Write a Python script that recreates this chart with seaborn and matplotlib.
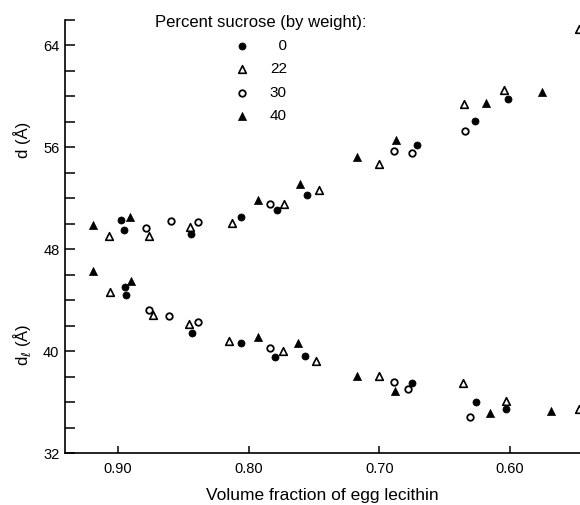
import matplotlib
matplotlib.use("Agg")
import matplotlib.pyplot as plt
import seaborn as sns
import pandas as pd
from matplotlib.ticker import MultipleLocator, FixedLocator

# ---- data (volume fraction of egg lecithin, repeat distance in Å) ----
sucrose_levels = ["0", "22", "30", "40"]

# upper branch: d
d_x_0 = [0.8974, 0.8956, 0.8440, 0.8057, 0.7784, 0.7556, 0.6712, 0.6267, 0.6018]
d_y_0 = [50.27, 49.49, 49.20, 50.56, 51.11, 52.24, 56.16, 58.09, 59.81]
d_x_22 = [0.9066, 0.8766, 0.8448, 0.8125, 0.7731, 0.7460, 0.6999, 0.6356, 0.6049, 0.5469]
d_y_22 = [49.04, 49.04, 49.77, 50.06, 51.53, 52.63, 54.71, 59.40, 60.47, 65.28]
d_x_30 = [0.8789, 0.8596, 0.8387, 0.7838, 0.6888, 0.6747, 0.6343]
d_y_30 = [49.69, 50.22, 50.16, 51.53, 55.71, 55.55, 57.25]
d_x_40 = [0.9188, 0.8908, 0.7925, 0.7607, 0.7174, 0.6869, 0.6186, 0.5759]
d_y_40 = [49.90, 50.56, 51.87, 53.15, 55.24, 56.57, 59.45, 60.31]

# lower branch: d_l
dl_x_0 = [0.8949, 0.8936, 0.8436, 0.8059, 0.7800, 0.7566, 0.6750, 0.6262, 0.6031]
dl_y_0 = [45.02, 44.39, 41.44, 40.67, 39.55, 39.61, 37.49, 36.00, 35.50]
dl_x_22 = [0.9058, 0.8730, 0.8455, 0.8148, 0.7736, 0.7487, 0.7004, 0.6362, 0.6034, 0.5469]
dl_y_22 = [44.67, 42.82, 42.12, 40.83, 40.05, 39.26, 38.09, 37.49, 36.13, 35.50]
dl_x_30 = [0.8764, 0.8611, 0.8385, 0.7838, 0.6885, 0.6778, 0.6310]
dl_y_30 = [43.22, 42.75, 42.30, 40.24, 37.62, 37.07, 34.85]
dl_x_40 = [0.9188, 0.8903, 0.7932, 0.7622, 0.7174, 0.6877, 0.6156, 0.5687]
dl_y_40 = [46.30, 45.54, 41.10, 40.63, 38.06, 36.91, 35.14, 35.32]

x_ticks = [0.90, 0.80, 0.70, 0.60]
x_tick_labels = ["0.90", "0.80", "0.70", "0.60"]
y_ticks = [32, 40, 48, 56, 64]

upper = {"0": (d_x_0, d_y_0), "22": (d_x_22, d_y_22), "30": (d_x_30, d_y_30), "40": (d_x_40, d_y_40)}
lower = {"0": (dl_x_0, dl_y_0), "22": (dl_x_22, dl_y_22), "30": (dl_x_30, dl_y_30), "40": (dl_x_40, dl_y_40)}

rows = []
for lvl in sucrose_levels:
    for name, src in (("d", upper), ("dl", lower)):
        xs, ys = src[lvl]
        for xv, yv in zip(xs, ys):
            rows.append({"frac": xv, "spacing": yv, "sucrose": lvl, "branch": name})
df = pd.DataFrame(rows)

sns.set_style("ticks")
plt.rcParams["font.family"] = ["Liberation Sans", "DejaVu Sans"]
for k in ("text.color", "axes.labelcolor", "xtick.color", "ytick.color", "axes.edgecolor"):
    plt.rcParams[k] = "black"

fig = plt.figure(figsize=(5.8, 5.05), dpi=100)
ax = fig.add_axes([65 / 580, (505 - 453.3) / 505, (580 - 65) / 580, (453.3 - 19.8) / 505])

styles = {
    "0": dict(marker="o", s=26, color="black", edgecolor="black", linewidth=0.5),
    "22": dict(marker="^", s=30, color="black", facecolor="white", edgecolor="black", linewidth=1.2),
    "30": dict(marker="o", s=22, color="black", facecolor="white", edgecolor="black", linewidth=1.3),
    "40": dict(marker="^", s=34, color="black", edgecolor="black", linewidth=0.5),
}
labels = {"0": "\u20070", "22": "22", "30": "30", "40": "40"}

for lvl in sucrose_levels:
    sub = df[df["sucrose"] == lvl]
    sns.scatterplot(data=sub, x="frac", y="spacing", ax=ax, label=labels[lvl],
                    clip_on=True, zorder=3, **styles[lvl])

ax.set_xlim(0.9405, 0.5465)
ax.set_ylim(32, 66)

ax.xaxis.set_major_locator(FixedLocator(x_ticks))
ax.set_xticklabels(x_tick_labels)
ax.yaxis.set_major_locator(FixedLocator(y_ticks))
ax.yaxis.set_minor_locator(MultipleLocator(2))

ax.tick_params(axis="y", which="both", direction="in", length=7, width=1.1, pad=4, labelsize=10.5)
ax.tick_params(axis="x", which="major", direction="in", length=5, width=1.1, pad=6, labelsize=10.5)

for side in ("top", "right"):
    ax.spines[side].set_visible(False)
for side in ("left", "bottom"):
    ax.spines[side].set_linewidth(1.2)

ax.set_xlabel("Volume fraction of egg lecithin", fontsize=12.5, labelpad=9)
ax.set_ylabel("")

ytrans = matplotlib.transforms.blended_transform_factory(ax.transAxes, ax.transData)
ax.text(-0.083, 56.6, "d (Å)", rotation=90, ha="center", va="center", fontsize=12, transform=ytrans)
ax.text(-0.083, 40.5, r"d$_\ell$ (Å)", rotation=90, ha="center", va="center", fontsize=12, transform=ytrans)

leg = ax.legend(title="Percent sucrose (by weight):", frameon=False, loc="upper center",
                bbox_to_anchor=(0.38, 1.025), fontsize=11, title_fontsize=12,
                handlelength=1.0, handletextpad=1.3, labelspacing=0.6, borderaxespad=0.0)

fig.savefig("out.png", dpi=100)
